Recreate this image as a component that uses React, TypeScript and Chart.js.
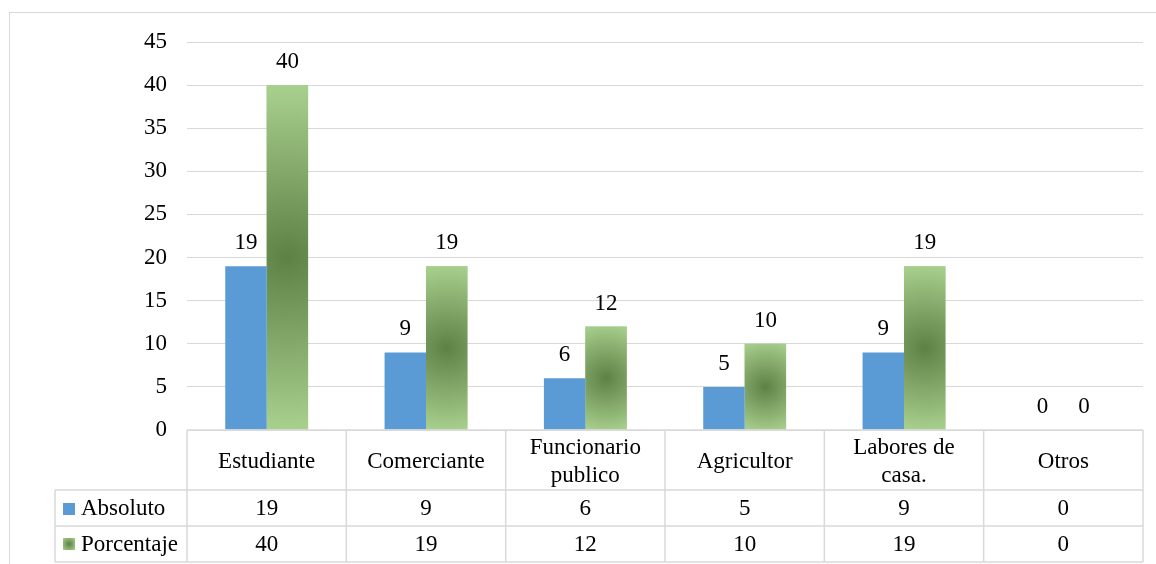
import React, { useEffect, useRef } from "react";
import { Chart, registerables } from "chart.js";

Chart.register(...registerables);

// ---- data ----
const categories: string[][] = [
  ["Estudiante"],
  ["Comerciante"],
  ["Funcionario", "publico"],
  ["Agricultor"],
  ["Labores de", "casa."],
  ["Otros"],
];
const absoluto = [19, 9, 6, 5, 9, 0];
const porcentaje = [40, 19, 12, 10, 19, 0];
const seriesNames = ["Absoluto", "Porcentaje"];
const yMin = 0;
const yMax = 45;
const yStep = 5;

// ---- styles ----
const FONT_FAMILY = "'Liberation Serif', 'Times New Roman', serif";
const FONT_SIZE = 23;
const FONT = `${FONT_SIZE}px ${FONT_FAMILY}`;
const TEXT = "#000000";
const GRID = "#D9D9D9";
const BLUE = "#5B9BD5";
const GREEN_LIGHT = "#A9D18E";
const GREEN_DARK = "#5E8046";

function radialGreen(ctx: CanvasRenderingContext2D, cx: number, cy: number, r: number) {
  const g = ctx.createRadialGradient(cx, cy, 0, cx, cy, r);
  g.addColorStop(0, GREEN_DARK);
  g.addColorStop(1, GREEN_LIGHT);
  return g;
}

const customPlugin = {
  id: "customExcel",
  beforeDraw(chart: any) {
    const ctx = chart.ctx as CanvasRenderingContext2D;
    ctx.save();
    ctx.fillStyle = "#ffffff";
    ctx.fillRect(0, 0, chart.width, chart.height);
    ctx.strokeStyle = GRID;
    ctx.lineWidth = 1;
    ctx.strokeRect(9.5, 12.5, chart.width + 20, chart.height + 20);
    ctx.restore();
  },
  afterDatasetDraw(chart: any, args: any) {
    if (args.index !== 1) return;
    const ctx = chart.ctx as CanvasRenderingContext2D;
    ctx.save();
    args.meta.data.forEach((el: any) => {
      const { x, y, base, width } = el.getProps(["x", "y", "base", "width"], true);
      const h = base - y;
      if (h <= 0.5) return;
      const cx = x;
      const cy = (y + base) / 2;
      const r = Math.hypot(width / 2, h / 2);
      ctx.fillStyle = radialGreen(ctx, cx, cy, r);
      ctx.fillRect(x - width / 2, y, width, h);
    });
    ctx.restore();
  },
  afterDatasetsDraw(chart: any) {
    const ctx = chart.ctx as CanvasRenderingContext2D;
    ctx.save();
    ctx.font = FONT;
    ctx.fillStyle = TEXT;
    ctx.textAlign = "center";
    ctx.textBaseline = "alphabetic";
    chart.data.datasets.forEach((ds: any, di: number) => {
      const meta = chart.getDatasetMeta(di);
      meta.data.forEach((el: any, i: number) => {
        const { x, y } = el.getProps(["x", "y"], true);
        ctx.fillText(String(ds.data[i]), x, y - 17);
      });
    });
    ctx.restore();
  },
  afterDraw(chart: any) {
    const ctx = chart.ctx as CanvasRenderingContext2D;
    const xs = chart.scales.x;
    const area = chart.chartArea;
    const n = categories.length;
    const colW = (area.right - area.left) / n;
    const top = area.bottom;
    const catH = 60;
    const rowH = 36;
    const r1 = top + catH;
    const r2 = r1 + rowH;
    const r3 = r2 + rowH;
    const legendLeft = 55;

    ctx.save();
    ctx.strokeStyle = GRID;
    ctx.lineWidth = 1.5;
    ctx.beginPath();
    // horizontal lines
    ctx.moveTo(area.left, top);
    ctx.lineTo(area.right, top);
    [r1, r2, r3].forEach((yy) => {
      ctx.moveTo(legendLeft, yy);
      ctx.lineTo(area.right, yy);
    });
    // vertical lines
    for (let i = 0; i <= n; i++) {
      const xx = area.left + i * colW;
      ctx.moveTo(xx, top);
      ctx.lineTo(xx, r3);
    }
    ctx.moveTo(legendLeft, r1);
    ctx.lineTo(legendLeft, r3);
    ctx.stroke();

    ctx.font = FONT;
    ctx.fillStyle = TEXT;
    ctx.textAlign = "center";
    ctx.textBaseline = "alphabetic";
    categories.forEach((lines, i) => {
      const cx = xs.getPixelForValue(i);
      if (lines.length === 1) {
        ctx.fillText(lines[0], cx, top + 38);
      } else {
        ctx.fillText(lines[0], cx, top + 24);
        ctx.fillText(lines[1], cx, top + 52);
      }
      ctx.fillText(String(absoluto[i]), cx, r1 + 25);
      ctx.fillText(String(porcentaje[i]), cx, r2 + 25);
    });

    // legend keys + names
    ctx.textAlign = "left";
    ctx.fillStyle = BLUE;
    ctx.fillRect(63, r1 + 13, 12, 12);
    ctx.fillStyle = radialGreen(ctx, 69, r2 + 18, 8.5);
    ctx.fillRect(63, r2 + 12, 12, 12);
    ctx.fillStyle = TEXT;
    ctx.fillText(seriesNames[0], 81, r1 + 25);
    ctx.fillText(seriesNames[1], 81, r2 + 25);
    ctx.restore();
  },
};

export default function App() {
  const canvasRef = useRef<HTMLCanvasElement | null>(null);

  useEffect(() => {
    const canvas = canvasRef.current;
    if (!canvas) return;
    const chart = new Chart(canvas, {
      type: "bar",
      data: {
        labels: categories.map((c) => c.join(" ")),
        datasets: [
          {
            label: seriesNames[0],
            data: absoluto,
            backgroundColor: BLUE,
            borderWidth: 0,
            categoryPercentage: 0.52,
            barPercentage: 1,
          },
          {
            label: seriesNames[1],
            data: porcentaje,
            backgroundColor: GREEN_LIGHT,
            borderWidth: 0,
            categoryPercentage: 0.52,
            barPercentage: 1,
          },
        ],
      },
      options: {
        responsive: false,
        animation: false,
        devicePixelRatio: 1,
        layout: { padding: { left: 0, right: 13, top: 42, bottom: 134 } },
        plugins: {
          legend: { display: false },
          tooltip: { enabled: false },
        },
        scales: {
          x: {
            display: false,
            offset: true,
          },
          y: {
            min: yMin,
            max: yMax,
            ticks: {
              stepSize: yStep,
              padding: 20,
              color: TEXT,
              font: { family: FONT_FAMILY, size: FONT_SIZE },
            },
            grid: { color: GRID, lineWidth: 1, drawTicks: false },
            border: { display: false },
            afterFit(scale: any) {
              scale.width = 187;
            },
          },
        },
      },
      plugins: [customPlugin],
    } as any);
    return () => chart.destroy();
  }, []);

  return (
    <div style={{ position: "absolute", left: 0, top: 0, width: 1156, height: 564, background: "#fff" }}>
      <canvas ref={canvasRef} width={1156} height={564} style={{ display: "block", width: 1156, height: 564 }} />
    </div>
  );
}
